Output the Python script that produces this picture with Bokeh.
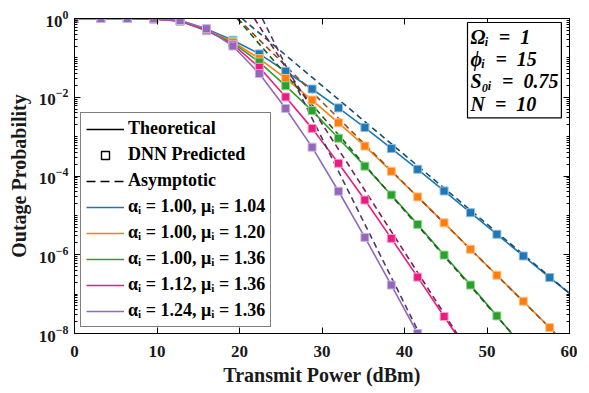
from bokeh.plotting import figure
from bokeh.models import (LogAxis, LinearAxis, FixedTicker, Legend, LegendItem,
                          Label, CustomJSTickFormatter)
from bokeh.embed import file_html
from bokeh.resources import INLINE

# ---------------- data ----------------
power_dbm = [0, 3.2, 6.4, 9.6, 12.8, 16.0, 19.2, 22.4, 25.6, 28.8, 32.0,
             35.2, 38.4, 41.6, 44.8, 48.0, 51.2, 54.4, 57.6]

series_labels = ["αᵢ = 1.00, μᵢ = 1.04", "αᵢ = 1.00, μᵢ = 1.20",
                 "αᵢ = 1.00, μᵢ = 1.36", "αᵢ = 1.12, μᵢ = 1.36",
                 "αᵢ = 1.24, μᵢ = 1.36"]

op_blue = [1, 1, 1, 0.98, 0.89, 0.54, 0.28, 0.126, 0.0457, 0.0162, 5.37e-3,
           1.70e-3, 5.0e-4, 1.48e-4, 4.17e-5, 1.17e-5, 3.31e-6, 9.3e-7, 2.63e-7]
op_orange = [1, 1, 1, 0.98, 0.87, 0.51, 0.257, 0.0955, 0.0302, 8.5e-3, 2.24e-3,
             5.75e-4, 1.32e-4, 2.95e-5, 6.46e-6, 1.38e-6, 3.02e-7, 6.6e-8, 1.41e-8]
op_green = [1, 1, 1, 0.98, 0.85, 0.49, 0.24, 0.078, 0.0195, 4.57e-3, 9.1e-4,
            1.78e-4, 3.3e-5, 5.9e-6, 9.8e-7, 1.7e-7, 2.8e-8]
op_pink = [1, 1, 1, 0.98, 0.87, 0.51, 0.22, 0.0575, 0.0102, 1.62e-3, 2.1e-4,
           2.45e-5, 2.6e-6, 2.7e-7, 2.7e-8]
op_purple = [1, 1, 1, 0.98, 0.89, 0.55, 0.20, 0.040, 5.2e-3, 5.4e-4, 4.1e-5,
             2.75e-6, 1.7e-7, 1.0e-8]

# where each theoretical curve leaves the plotted area
theory_end_x = [60.0, 58.3, 53.0, 46.2, 41.6]
theory_end_y = [1.05e-7, 1.0e-8, 1.0e-8, 1.0e-8, 1.0e-8]

# asymptotic (straight in log scale) end points
asym_x = [[20.3, 60.0], [19.8, 58.3], [19.7, 53.0], [21.8, 46.35], [22.76, 41.8]]
asym_y = [[1.0, 1.05e-7], [1.0, 1.0e-8], [1.0, 1.0e-8], [1.0, 1.0e-8], [1.0, 1.0e-8]]

x_ticks = [0, 10, 20, 30, 40, 50, 60]
y_ticks = [1e-8, 1e-6, 1e-4, 1e-2, 1e0]

# ---------------- styles ----------------
colors = ["#1f77b4", "#ff7f0e", "#2ca02c", "#ec1b83", "#9467bd"]
edge_colors = ["#8fbbe0", "#ffc08a", "#95d495", "#f7a0c8", "#cbb5e0"]
dash_colors = ["#1b4f72", "#94501a", "#1d5e1d", "#7b1f52", "#4d3b63"]
FONT = "Liberation Serif"
TXT = "#1a1a1a"

p = figure(x_range=(0, 60), y_range=(1e-8, 1), y_axis_type="log",
           frame_width=495, frame_height=315,
           min_border_left=74, min_border_right=8, min_border_top=18,
           min_border_bottom=44,
           output_backend="svg", toolbar_location=None)
p.xgrid.visible = False
p.ygrid.visible = False
p.outline_line_color = "black"

all_ops = [op_blue, op_orange, op_green, op_pink, op_purple]
line_renderers = []
for i, ops in enumerate(all_ops):
    n = len(ops)
    tx = power_dbm[:n] + [theory_end_x[i]]
    ty = ops + [theory_end_y[i]]
    r = p.line(tx, ty, line_color=colors[i], line_width=1.6)
    line_renderers.append(r)
for i in range(5):
    p.line(asym_x[i], asym_y[i], line_color=dash_colors[i], line_width=1.6,
           line_dash="6 4")
for i, ops in enumerate(all_ops):
    n = len(ops)
    p.scatter(power_dbm[:n], ops, marker="square", size=8,
              fill_color=colors[i], line_color=edge_colors[i], line_width=1)

# dummy renderers for legend entries (points far outside the frame)
far_x = [-100.0, -99.0]
far_y = [1e-20, 1e-20]
r_theo = p.line(far_x, far_y, line_color="black", line_width=1.6)
r_dnn = p.scatter(far_x, far_y, marker="square", size=7, fill_color=None,
                  line_color="black", line_width=1.4)
r_asym = p.line(far_x, far_y, line_color="black", line_width=1.6, line_dash="9 5")

items = [LegendItem(label="Theoretical", renderers=[r_theo]),
         LegendItem(label="DNN Predicted", renderers=[r_dnn]),
         LegendItem(label="Asymptotic", renderers=[r_asym])]
for i in range(5):
    items.append(LegendItem(label=series_labels[i], renderers=[line_renderers[i]]))

legend = Legend(items=items, location="bottom_left")
legend.label_text_font = FONT
legend.label_text_font_style = "bold"
legend.label_text_font_size = "18px"
legend.label_text_color = "black"
legend.glyph_width = 38
legend.glyph_height = 20
legend.label_height = 20
legend.label_standoff = 4
legend.spacing = 5
legend.padding = 5
legend.margin = 6
legend.border_line_color = "black"
legend.border_line_width = 1
legend.background_fill_alpha = 1
p.add_layout(legend)

# axes
xt = FixedTicker(ticks=x_ticks, minor_ticks=[])
minor = []
for k in range(-8, 0):
    for m in range(1, 10):
        v = m * 10.0 ** k
        if not (m == 1 and k % 2 == 0):
            minor.append(v)
yt = FixedTicker(ticks=y_ticks, minor_ticks=minor)

def style_axis(ax):
    ax.axis_line_color = "black"
    ax.major_tick_in = 6
    ax.major_tick_out = 0
    ax.minor_tick_in = 3
    ax.minor_tick_out = 0
    ax.major_tick_line_color = "black"
    ax.minor_tick_line_color = "black"
    ax.major_label_text_font = FONT
    ax.major_label_text_font_style = "bold"
    ax.major_label_text_font_size = "17px"
    ax.major_label_text_color = TXT
    ax.axis_label_text_font = FONT
    ax.axis_label_text_font_style = "bold"
    ax.axis_label_text_font_size = "20px"
    ax.axis_label_text_color = TXT

xa = p.xaxis[0]
xa.ticker = xt
style_axis(xa)
xa.major_label_standoff = 12
xa.axis_label = "Transmit Power (dBm)"
xa.axis_label_standoff = 4

ya = p.yaxis[0]
ya.ticker = yt
style_axis(ya)
ya.major_label_standoff = 6
ya.axis_label = "Outage Probability"
ya.axis_label_standoff = 6

blank = CustomJSTickFormatter(code="return ''")
top = LinearAxis(ticker=xt, formatter=blank)
style_axis(top)
top.major_label_standoff = 0
p.add_layout(top, "above")
right = LogAxis(ticker=yt, formatter=CustomJSTickFormatter(code="return ''"))
style_axis(right)
right.major_label_standoff = 0
p.add_layout(right, "right")

# parameter box
info = Label(x=393, y=311, x_units="screen", y_units="screen",
             anchor="top_left",
             text="Ωᵢ\u2002=\u20021\nϕᵢ\u2002=\u200215\nS₀ᵢ\u2002=\u20020.75\nN\u2002=\u200210",
             text_font=FONT, text_font_style="bold italic",
             text_font_size="20px", text_color="black",
             text_line_height=1.02,
             border_line_color="black", border_line_width=1.2,
             background_fill_color="white", padding=3)
p.add_layout(info)

open("out.html", "w").write(file_html(p, INLINE))
